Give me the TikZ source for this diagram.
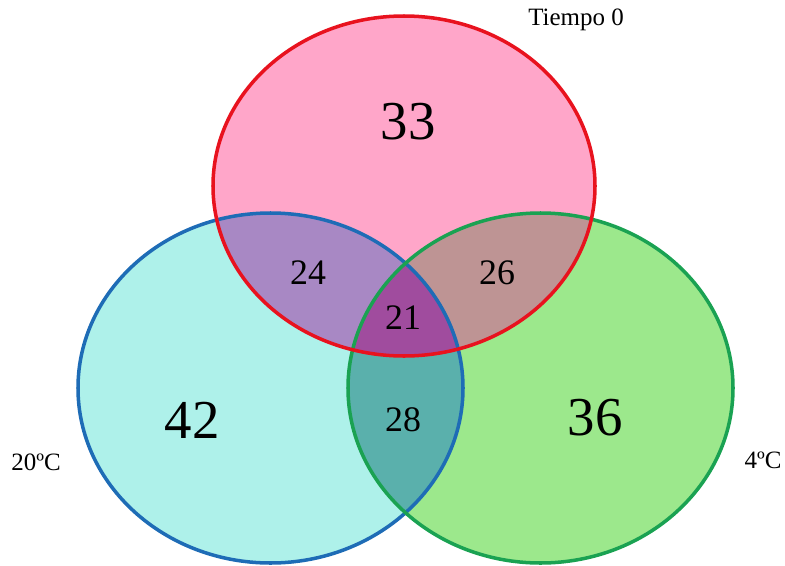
\documentclass[tikz,border=0pt]{standalone}
\usepackage{fontspec}
\setmainfont{Liberation Serif}
\usepackage{tikz}
\definecolor{tzeroFill}{RGB}{255,166,201}
\definecolor{tzeroLine}{RGB}{232,18,30}
\definecolor{twentyFill}{RGB}{174,241,234}
\definecolor{twentyLine}{RGB}{30,108,182}
\definecolor{fourFill}{RGB}{156,232,140}
\definecolor{fourLine}{RGB}{26,162,82}
\definecolor{tzTwFill}{RGB}{168,136,196}
\definecolor{tzFoFill}{RGB}{190,148,148}
\definecolor{twFoFill}{RGB}{90,176,172}
\definecolor{allFill}{RGB}{160,76,158}
\tikzstyle{setline}=[line width=1pt]
\tikzstyle{bignum}=[inner sep=0pt, font=\fontsize{15.6}{16}\selectfont]
\tikzstyle{midnum}=[inner sep=0pt, font=\fontsize{10.2}{11}\selectfont]
\tikzstyle{setname}=[inner sep=0pt, font=\fontsize{7.1}{8}\selectfont]
\newcommand{\tzero}{(4.04,3.79) ellipse [x radius=1.91, y radius=1.70]}
\newcommand{\twenty}{(2.705,1.77) ellipse [x radius=1.925, y radius=1.75]}
\newcommand{\four}{(5.405,1.77) ellipse [x radius=1.925, y radius=1.75]}

\begin{document}
\begin{tikzpicture}
    \useasboundingbox (0,0) rectangle (7.85,5.65);
    % set fills
    \fill[tzeroFill] \tzero;
    \fill[twentyFill] \twenty;
    \fill[fourFill] \four;
    % pairwise overlaps
    \begin{scope}
        \clip \tzero;
        \fill[tzTwFill] \twenty;
        \fill[tzFoFill] \four;
    \end{scope}
    \begin{scope}
        \clip \twenty;
        \fill[twFoFill] \four;
    \end{scope}
    \begin{scope}
        \clip \tzero;
        \clip \twenty;
        \fill[allFill] \four;
    \end{scope}
    % outlines
    \draw[setline, twentyLine] \twenty;
    \draw[setline, fourLine] \four;
    \draw[setline, tzeroLine] \tzero;
    % counts
    \node[bignum] (onlyT0) at (4.08,4.43) {33};
    \node[bignum] (only20) at (1.92,1.45) {42};
    \node[bignum] (only4) at (5.95,1.47) {36};
    \node[midnum] (t0and20) at (3.08,2.92) {24};
    \node[midnum] (t0and4) at (4.97,2.92) {26};
    \node[midnum] (allThree) at (4.03,2.47) {21};
    \node[midnum] (c20and4) at (4.03,1.45) {28};
    % set names
    \node[setname] (nameT0) at (5.76,5.45) {Tiempo 0};
    \node[setname] (name20) at (0.36,1.03) {20ºC};
    \node[setname] (name4) at (7.63,1.05) {4ºC};
\end{tikzpicture}
\end{document}
